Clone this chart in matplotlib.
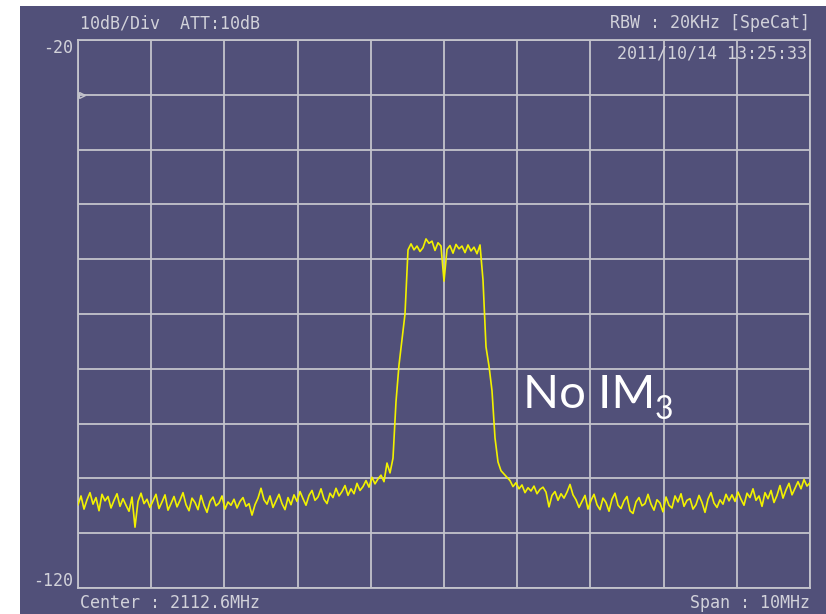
import matplotlib.pyplot as plt
import numpy as np
from matplotlib.patches import Rectangle

# trace levels in dBm, evenly spaced across the 10 MHz span
left_noise = [
    -104.8, -103.2, -105.6, -103.9, -102.6, -104.7, -103.5, -105.9, -102.9, -104.1,
    -103.3, -105.4, -104.0, -102.8, -105.1, -103.7, -104.9, -106.0, -103.4, -108.9,
    -104.2, -102.7, -104.6, -103.8, -105.3,
    -104.1, -102.9, -105.5, -104.3, -103.0, -105.8, -104.6, -103.3, -105.2, -104.0,
    -102.6, -104.8, -105.9, -103.6, -104.4, -105.7, -103.1, -104.9, -106.2, -104.2,
    -103.4, -105.0, -104.5, -103.2, -105.6, -104.3,
    -104.9, -103.8, -105.4, -104.2, -103.5, -105.1, -104.6, -106.7, -104.8, -103.6,
    -101.8, -103.9, -104.7, -103.2, -105.3, -104.1, -102.9, -104.6, -105.7, -103.5,
    -104.8, -103.0, -104.2, -102.4, -103.7, -104.9, -103.1, -102.2, -104.0, -103.4,
    -101.9, -103.8, -104.6, -102.7, -103.5, -101.8, -103.2,
    -102.4, -101.3, -103.1, -101.9, -102.8, -100.9, -102.2, -101.5,
    -100.4, -101.6, -99.8, -101.0, -100.1, -99.4, -100.6,
]
rise = [-97.2, -99.0, -96.3, -86.0, -79.3, -74.7, -70.0, -58.3]
top = [
    -57.2, -58.3, -57.6, -58.6, -57.9, -56.3, -57.1, -56.7, -58.4, -57.0,
    -57.6, -64.0, -58.2, -57.5, -58.9, -57.3, -58.1, -57.6, -58.8, -57.4,
    -58.5, -57.8, -59.0, -57.4,
]
fall = [-63.8, -76.0, -79.5, -84.0, -92.6, -97.0, -98.6, -99.2, -99.8]
right_noise = [
    -100.4, -101.5, -100.8, -101.9, -101.2, -102.6, -101.7, -102.3, -101.4, -102.8,
    -102.0, -101.6, -102.5,
    -105.2, -103.1, -102.4, -104.0, -102.8, -103.6, -102.5, -101.1, -103.0,
    -103.9, -105.3, -104.2, -103.1, -105.6, -104.0, -102.9, -104.8, -105.7, -103.6,
    -104.4, -106.0, -103.8, -102.7, -104.9, -105.5, -104.1, -103.3, -105.9, -106.4,
    -104.3, -103.5, -105.0, -104.6, -102.9, -104.7, -105.8, -103.9, -104.5, -106.1,
    -103.4, -104.9, -105.4, -103.2, -104.3, -102.8, -105.1, -104.0, -103.7, -105.6,
    -104.8, -103.1, -104.4, -106.2, -103.8, -102.6, -104.5, -105.3, -103.9, -104.7,
    -102.9, -104.1,
    -103.0, -104.2, -102.5, -103.8, -104.9, -102.7, -103.5, -101.9, -104.0, -103.2,
    -105.1, -102.6, -103.7, -102.2, -104.4, -103.1,
    -101.3, -103.6, -102.1, -100.9, -103.0, -101.8,
    -100.6, -101.9, -100.2, -101.4, -100.8,
]

level = np.array(left_noise + rise + top + fall + right_noise)
freq = np.linspace(-5, 5, len(level))  # offset from centre, MHz

bg = '#515079'
fg = '#d2d2da'
grid_c = '#c4c4cc'

fig = plt.figure(figsize=(8.26, 6.14), dpi=100)
fig.patch.set_facecolor('white')
fig.patches.append(Rectangle((20 / 826, 0), 1, 1 - 6 / 614, transform=fig.transFigure,
                             facecolor=bg, edgecolor='none', zorder=-5))

ax = fig.add_axes([78 / 826, 1 - 588 / 614, 732 / 826, 548 / 614])
ax.set_zorder(2)
ax.set_facecolor(bg)
ax.set_xlim(-5, 5)
ax.set_ylim(-120, -20)
ax.set_xticks(np.arange(-5, 6, 1))
ax.set_yticks(np.arange(-120, -10, 10))
ax.grid(True, color=grid_c, lw=1.3)
ax.tick_params(length=0, labelleft=False, labelbottom=False)
for s in ax.spines.values():
    s.set_color(grid_c)
    s.set_linewidth(1.3)

ax.plot(freq, level, color='#f2f200', lw=1.2, zorder=3)
ax.plot([-4.94], [-30], marker='>', ms=5, mfc='none', mec=grid_c, mew=1, clip_on=False)

mono = dict(family='DejaVu Sans Mono', fontsize=12, color=fg, zorder=5)
fig.text(80 / 826, 1 - 28 / 614, '10dB/Div  ATT:10dB', ha='left', va='baseline', **mono)
fig.text(810 / 826, 1 - 28 / 614, 'RBW : 20KHz [SpeCat]', ha='right', va='baseline', **mono)
fig.text(807 / 826, 1 - 59 / 614, '2011/10/14 13:25:33', ha='right', va='baseline', **mono)
fig.text(73 / 826, 1 - 53 / 614, '-20', ha='right', va='baseline', **mono)
fig.text(73 / 826, 1 - 586 / 614, '-120', ha='right', va='baseline', **mono)
fig.text(80 / 826, 1 - 608 / 614, 'Center : 2112.6MHz', ha='left', va='baseline', **mono)
fig.text(810 / 826, 1 - 608 / 614, 'Span : 10MHz', ha='right', va='baseline', **mono)

fig.text(523 / 826, 1 - 408 / 614, 'No IM', family='Lato', fontsize=34, color='white',
         ha='left', va='baseline', zorder=5)
fig.text(655 / 826, 1 - 419 / 614, '3', family='Lato', fontsize=23, color='white',
         ha='left', va='baseline', zorder=5)

fig.savefig('out.png', dpi=100, facecolor=fig.get_facecolor())
